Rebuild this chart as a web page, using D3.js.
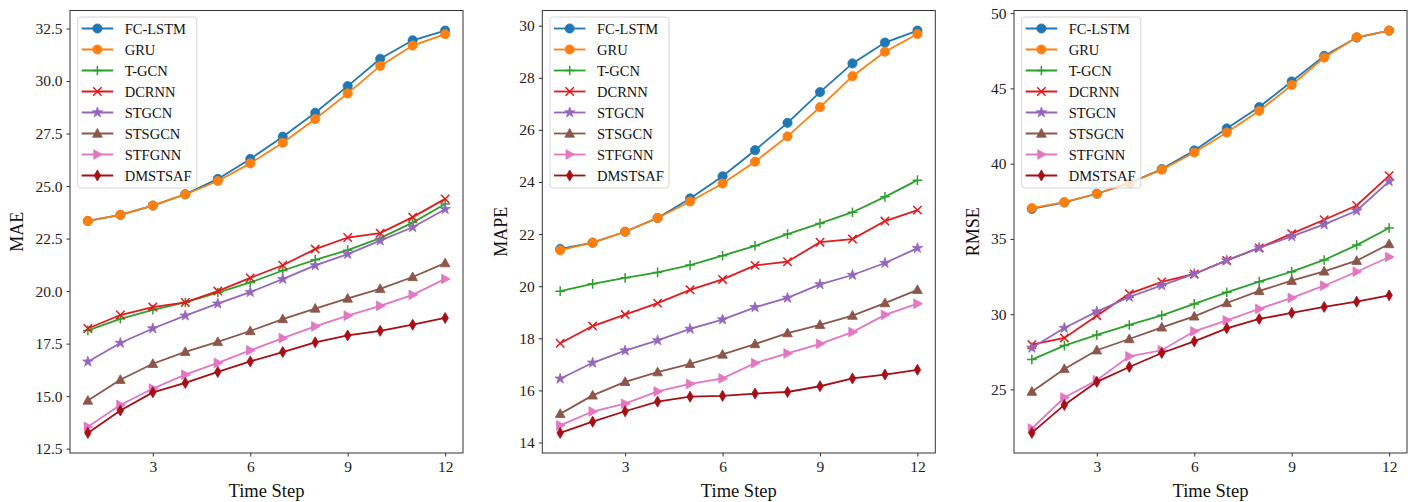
<!DOCTYPE html>
<html>
<head>
<meta charset="utf-8">
<script src="https://cdn.jsdelivr.net/npm/d3@7"></script>
<style>
  body { margin: 0; background: #fff; }
  svg { display: block; font-family: "Liberation Serif", "Times New Roman", serif; }
  .axis path, .axis line { stroke: #333; }
  .axis text { fill: #222; font-size: 15.5px; font-family: "Liberation Serif", serif; }
</style>
</head>
<body>
<script>
'use strict'
const steps = [1, 2, 3, 4, 5, 6, 7, 8, 9, 10, 11, 12];
const methods = ["FC-LSTM", "GRU", "T-GCN", "DCRNN", "STGCN", "STSGCN", "STFGNN", "DMSTSAF"];
const colors = ["#1f77b4", "#ff7f0e", "#2ca02c", "#e31a1c", "#9467bd", "#8c564b", "#e377c2", "#a50f15"];
const markers = ["circle", "circle", "plus", "cross", "star", "triUp", "triRight", "thinDiamond"];

// one row per method, same order as `methods`
const maeValues = [
  [23.34, 23.63, 24.07, 24.61, 25.34, 26.29, 27.35, 28.49, 29.76, 31.06, 31.94, 32.40],
  [23.34, 23.63, 24.07, 24.60, 25.24, 26.08, 27.06, 28.19, 29.41, 30.72, 31.69, 32.23],
  [18.13, 18.68, 19.11, 19.46, 19.93, 20.41, 20.98, 21.49, 21.95, 22.52, 23.26, 24.15],
  [18.22, 18.86, 19.24, 19.46, 20.00, 20.63, 21.23, 22.00, 22.55, 22.76, 23.52, 24.39],
  [16.64, 17.53, 18.22, 18.83, 19.40, 19.95, 20.57, 21.22, 21.76, 22.40, 23.04, 23.90],
  [14.79, 15.78, 16.54, 17.11, 17.58, 18.10, 18.67, 19.17, 19.65, 20.11, 20.67, 21.33],
  [13.54, 14.58, 15.36, 16.02, 16.58, 17.18, 17.76, 18.32, 18.83, 19.30, 19.82, 20.58],
  [13.25, 14.32, 15.18, 15.63, 16.15, 16.65, 17.10, 17.56, 17.89, 18.11, 18.40, 18.72]
];
const mapeValues = [
  [21.43, 21.67, 22.09, 22.62, 23.37, 24.22, 25.22, 26.27, 27.45, 28.55, 29.35, 29.81],
  [21.38, 21.67, 22.09, 22.62, 23.25, 23.94, 24.78, 25.75, 26.87, 28.06, 29.00, 29.68],
  [19.81, 20.09, 20.32, 20.53, 20.81, 21.17, 21.55, 22.00, 22.41, 22.84, 23.43, 24.07],
  [17.81, 18.47, 18.91, 19.35, 19.86, 20.26, 20.80, 20.94, 21.69, 21.81, 22.50, 22.92],
  [16.45, 17.06, 17.53, 17.92, 18.36, 18.72, 19.19, 19.55, 20.07, 20.43, 20.89, 21.46],
  [15.10, 15.81, 16.33, 16.70, 17.02, 17.38, 17.78, 18.20, 18.52, 18.87, 19.35, 19.86],
  [14.66, 15.19, 15.49, 15.96, 16.25, 16.46, 17.05, 17.42, 17.79, 18.24, 18.90, 19.33],
  [14.37, 14.80, 15.20, 15.57, 15.76, 15.79, 15.88, 15.94, 16.16, 16.46, 16.61, 16.79]
];
const rmseValues = [
  [36.99, 37.42, 38.00, 38.71, 39.64, 40.88, 42.34, 43.76, 45.46, 47.16, 48.38, 48.84],
  [37.05, 37.44, 38.00, 38.70, 39.60, 40.74, 42.07, 43.51, 45.22, 47.05, 48.40, 48.84],
  [26.98, 27.91, 28.62, 29.28, 29.92, 30.68, 31.45, 32.16, 32.82, 33.60, 34.59, 35.72],
  [27.97, 28.42, 29.90, 31.36, 32.14, 32.67, 33.57, 34.40, 35.35, 36.27, 37.22, 39.20],
  [27.76, 29.08, 30.17, 31.14, 31.91, 32.67, 33.57, 34.40, 35.17, 35.96, 36.87, 38.82],
  [24.85, 26.36, 27.60, 28.35, 29.12, 29.85, 30.74, 31.54, 32.22, 32.84, 33.55, 34.66],
  [22.40, 24.46, 25.61, 27.20, 27.60, 28.86, 29.59, 30.35, 31.08, 31.89, 32.82, 33.80],
  [22.11, 23.97, 25.50, 26.49, 27.42, 28.19, 29.06, 29.68, 30.08, 30.48, 30.83, 31.25]
];
const xTicks = [3, 6, 9, 12];
const maeTicks = [12.5, 15.0, 17.5, 20.0, 22.5, 25.0, 27.5, 30.0, 32.5];
const mapeTicks = [14, 16, 18, 20, 22, 24, 26, 28, 30];
const rmseTicks = [25, 30, 35, 40, 45, 50];

const w = 1416;
const h = 502;
const plotTop = 10.5;
const plotBottom = 453;
const plotW = 393;

const panels = [
  { label: "MAE", values: maeValues, ticks: maeTicks, fmt: d3.format(".1f"), left: 70, labelOff: 53 },
  { label: "MAPE", values: mapeValues, ticks: mapeTicks, fmt: d3.format("d"), left: 542.3, labelOff: 41 },
  { label: "RMSE", values: rmseValues, ticks: rmseTicks, fmt: d3.format("d"), left: 1014, labelOff: 41 }
];

const svg = d3.select("body").append("svg")
  .attr("width", w)
  .attr("height", h);

function markerPath(type, r) {
  const p = d3.path();
  if (type === "circle") {
    p.arc(0, 0, r, 0, 2 * Math.PI);
  } else if (type === "plus") {
    p.moveTo(-r, 0); p.lineTo(r, 0); p.moveTo(0, -r); p.lineTo(0, r);
  } else if (type === "cross") {
    p.moveTo(-r, -r); p.lineTo(r, r); p.moveTo(-r, r); p.lineTo(r, -r);
  } else if (type === "triUp") {
    p.moveTo(0, -r * 1.1); p.lineTo(r * 1.05, r * 0.8); p.lineTo(-r * 1.05, r * 0.8); p.closePath();
  } else if (type === "triRight") {
    p.moveTo(r * 1.1, 0); p.lineTo(-r * 0.8, -r * 1.05); p.lineTo(-r * 0.8, r * 1.05); p.closePath();
  } else if (type === "thinDiamond") {
    p.moveTo(0, -r * 1.2); p.lineTo(r * 0.7, 0); p.lineTo(0, r * 1.2); p.lineTo(-r * 0.7, 0); p.closePath();
  } else if (type === "star") {
    return d3.symbol(d3.symbolStar, 34)();
  }
  return p.toString();
}

function drawMarker(g, type, color) {
  const isLine = type === "plus" || type === "cross";
  const r = type === "plus" ? 4.8 : (type === "cross" ? 4.2 : 4.6);
  g.append("path")
    .attr("d", markerPath(type, r))
    .attr("fill", isLine ? "none" : color)
    .attr("stroke", color)
    .attr("stroke-width", isLine ? 1.5 : 0.8);
}

panels.forEach((pn) => {
  const all = pn.values.flat();
  const minV = d3.min(all);
  const maxV = d3.max(all);
  const pad = (maxV - minV) * 0.05;

  const xScale = d3.scaleLinear()
    .domain([0.45, 12.55])
    .range([pn.left, pn.left + plotW]);
  const yScale = d3.scaleLinear()
    .domain([minV - pad, maxV + pad])
    .range([plotBottom, plotTop]);

  const g = svg.append("g");

  // lines first, then markers
  pn.values.forEach((vals, i) => {
    const line = d3.line()
      .x((d, j) => xScale(steps[j]))
      .y((d) => yScale(d));
    g.append("path")
      .datum(vals)
      .attr("d", line)
      .attr("fill", "none")
      .attr("stroke", colors[i])
      .attr("stroke-width", 1.8);
    vals.forEach((v, j) => {
      const mg = g.append("g")
        .attr("transform", "translate(" + xScale(steps[j]) + "," + yScale(v) + ")");
      drawMarker(mg, markers[i], colors[i]);
    });
  });

  // frame
  g.append("rect")
    .attr("x", pn.left)
    .attr("y", plotTop)
    .attr("width", plotW)
    .attr("height", plotBottom - plotTop)
    .attr("fill", "none")
    .attr("stroke", "#333")
    .attr("stroke-width", 1);

  g.append("g")
    .attr("class", "axis")
    .attr("transform", "translate(0," + plotBottom + ")")
    .call(d3.axisBottom(xScale).tickValues(xTicks).tickSize(3.5).tickPadding(4).tickFormat(d3.format("d")))
    .call((a) => a.select(".domain").remove());

  g.append("g")
    .attr("class", "axis")
    .attr("transform", "translate(" + pn.left + ",0)")
    .call(d3.axisLeft(yScale).tickValues(pn.ticks).tickSize(3.5).tickPadding(4).tickFormat(pn.fmt))
    .call((a) => a.select(".domain").remove());

  g.append("text")
    .attr("x", pn.left + plotW / 2)
    .attr("y", 497)
    .attr("text-anchor", "middle")
    .attr("font-size", 18.5)
    .attr("fill", "#111")
    .text("Time Step");

  g.append("text")
    .attr("transform", "translate(" + (pn.left - pn.labelOff + 6) + "," + ((plotTop + plotBottom) / 2) + ") rotate(-90)")
    .attr("text-anchor", "middle")
    .attr("font-size", 18)
    .attr("fill", "#111")
    .text(pn.label);

  // legend
  const lg = g.append("g")
    .attr("transform", "translate(" + (pn.left + 7.7) + "," + (plotTop + 6.5) + ")");
  lg.append("rect")
    .attr("width", 119)
    .attr("height", 171)
    .attr("rx", 3)
    .attr("fill", "#fff")
    .attr("fill-opacity", 0.8)
    .attr("stroke", "#d6d6d6");
  methods.forEach((m, i) => {
    const y = 11.5 + i * 21;
    lg.append("line")
      .attr("x1", 4).attr("x2", 35.5)
      .attr("y1", y).attr("y2", y)
      .attr("stroke", colors[i])
      .attr("stroke-width", 1.8);
    const mg = lg.append("g").attr("transform", "translate(19.7," + y + ")");
    drawMarker(mg, markers[i], colors[i]);
    lg.append("text")
      .attr("x", 47)
      .attr("y", y + 5)
      .attr("font-size", 14.5)
      .attr("fill", "#111")
      .text(m);
  });
});
</script>
</body>
</html>
